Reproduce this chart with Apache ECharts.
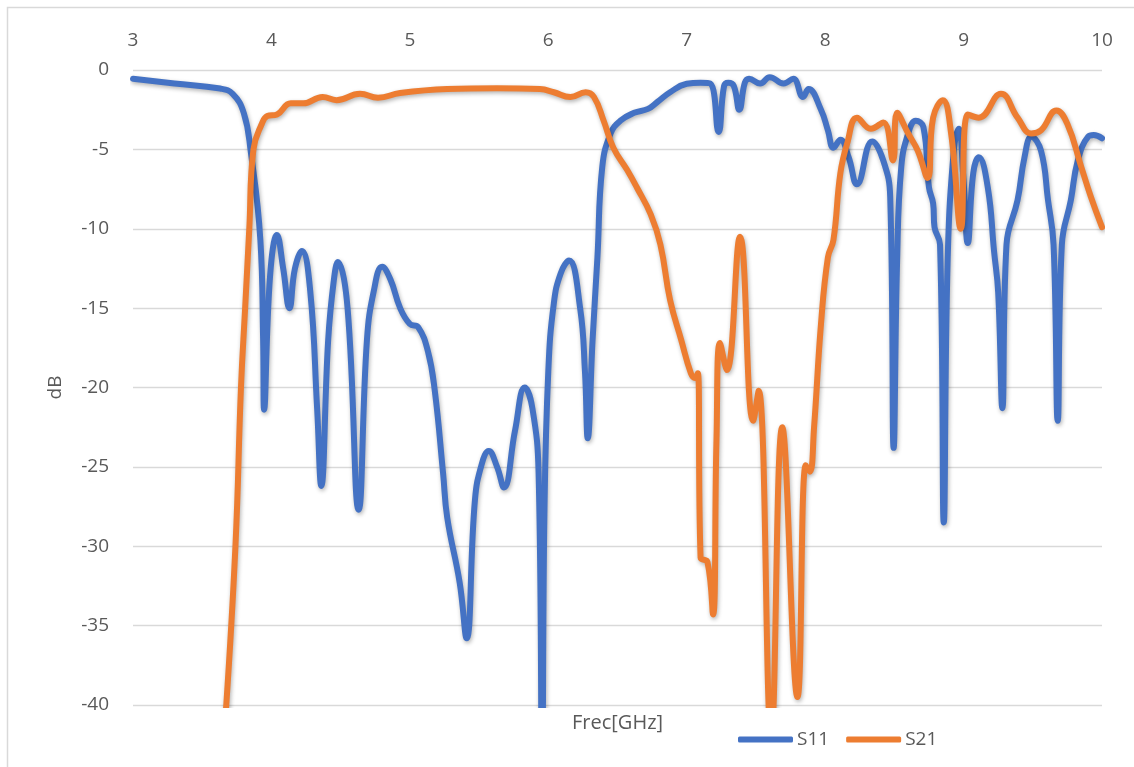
<!DOCTYPE html>
<html><head><meta charset="utf-8">
<script src="https://cdn.jsdelivr.net/npm/echarts@6/dist/echarts.min.js"></script>
<style>html,body{margin:0;padding:0;background:#fff}#c{width:1134px;height:767px}</style>
</head><body><div id="c"></div>
<script>
const seriesNames = ['S11', 'S21'];
const s11Freq = [3.00,3.30,3.63,3.72,3.80,3.85,3.92,3.94,3.947,3.99,4.04,4.085,4.13,4.17,4.22,4.28,4.33,4.36,4.41,4.45,4.48,4.55,4.63,4.69,4.74,4.80,4.86,4.93,5.00,5.06,5.13,5.18,5.24,5.27,5.36,5.41,5.47,5.52,5.57,5.63,5.68,5.76,5.83,5.885,5.93,5.955,5.972,6.00,6.04,6.09,6.15,6.23,6.265,6.285,6.32,6.355,6.39,6.45,6.52,6.62,6.72,6.79,6.88,7.00,7.10,7.17,7.23,7.27,7.30,7.34,7.38,7.42,7.45,7.53,7.60,7.70,7.77,7.84,7.88,7.97,8.02,8.06,8.11,8.17,8.23,8.34,8.42,8.47,8.495,8.52,8.55,8.60,8.655,8.71,8.75,8.78,8.79,8.83,8.857,8.885,8.93,8.965,9.0,9.03,9.07,9.11,9.175,9.22,9.25,9.28,9.31,9.39,9.44,9.49,9.56,9.61,9.65,9.68,9.71,9.775,9.825,9.9,9.94,10.0];
const s11Db = [-0.55,-0.85,-1.17,-1.5,-2.7,-5.1,-10.7,-17,-21.4,-13,-10.4,-12.5,-15.0,-12.5,-11.4,-13.9,-21.3,-26.2,-17.0,-13.3,-12.1,-15.0,-27.7,-17.0,-13.9,-12.4,-13.2,-15.0,-16.0,-16.2,-17.7,-20.2,-25.4,-28.2,-32.3,-35.8,-27.1,-24.8,-24.0,-25.0,-26.3,-22.7,-20.0,-21.3,-25.4,-45,-28,-19,-14.7,-12.8,-12.0,-15.0,-19,-23.2,-17,-11.8,-6.1,-4.0,-3.2,-2.7,-2.45,-2.0,-1.4,-0.87,-0.8,-0.85,-3.9,-1.0,-0.8,-1.0,-2.5,-0.8,-0.55,-0.85,-0.45,-0.85,-0.55,-1.7,-1.2,-2.5,-3.8,-4.9,-4.4,-5.5,-7.2,-4.5,-5.7,-8,-23.8,-12,-6.1,-4.0,-3.2,-3.6,-7.4,-8.4,-9.9,-11,-28.5,-12,-5,-3.7,-7,-10.9,-6.5,-5.5,-7.4,-11.4,-14,-21.3,-11,-8.2,-5.5,-4.2,-5.1,-8.2,-11,-22.1,-11,-8.2,-5.7,-4.2,-4.1,-4.3];
const s21Freq = [3.67,3.74,3.78,3.81,3.84,3.87,3.93,3.97,4.04,4.14,4.23,4.37,4.47,4.64,4.77,4.93,5.27,5.63,5.94,6.04,6.16,6.27,6.33,6.40,6.47,6.57,6.64,6.74,6.81,6.88,6.96,7.03,7.06,7.08,7.10,7.15,7.19,7.215,7.24,7.29,7.385,7.48,7.52,7.61,7.69,7.80,7.86,7.89,7.92,7.97,8.02,8.06,8.11,8.16,8.23,8.33,8.42,8.49,8.52,8.60,8.67,8.74,8.78,8.85,8.91,8.98,9.03,9.11,9.27,9.39,9.49,9.56,9.67,9.75,9.85,9.92,10.0];
const s21Db = [-40.5,-30,-20,-15,-10,-5,-3.4,-2.9,-2.8,-2.1,-2.1,-1.7,-1.9,-1.5,-1.75,-1.45,-1.2,-1.15,-1.2,-1.4,-1.7,-1.4,-1.7,-3.2,-4.9,-6.3,-7.4,-9.1,-11.0,-14.5,-17.0,-19.1,-19.4,-19.1,-30.7,-31.0,-34.3,-23.3,-17.2,-18.9,-10.5,-22.1,-20.2,-42,-22.5,-39.5,-24.9,-25.3,-22.5,-16.0,-11.8,-10.7,-6.5,-4.6,-3.0,-3.7,-3.3,-5.7,-2.7,-4.0,-5.1,-6.8,-3.0,-1.9,-4.0,-10.0,-2.8,-3.0,-1.5,-3.0,-4.0,-3.8,-2.55,-3.4,-6.1,-8.0,-9.9];
const xAxisName = 'Frec[GHz]';
const yAxisName = 'dB';

const FONT = '"Open Sans", sans-serif';
const TXT = '#595959';
const zip = (xs, ys) => xs.map((x, i) => [x, ys[i]]);
const colors = ['#4472C4', '#ED7D31'];
const lineSeries = (name, data, color) => ({
  name, type: 'line', data, showSymbol: false, symbol: 'none', smooth: 0.45, clip: true,
  lineStyle: { color, width: 6, cap: 'round', join: 'round',
    shadowColor: 'rgba(0,0,0,0.3)', shadowBlur: 4, shadowOffsetX: 1, shadowOffsetY: 2 },
  itemStyle: { color }
});

const chart = echarts.init(document.getElementById('c'), null, { renderer: 'canvas' });
chart.setOption({
  animation: false,
  backgroundColor: '#fff',
  textStyle: { fontFamily: FONT },
  grid: { left: 133, top: 70, width: 969, height: 635, containLabel: false },
  xAxis: {
    type: 'value', position: 'top', min: 3, max: 10, interval: 1,
    axisLine: { show: false }, axisTick: { show: false }, splitLine: { show: false },
    axisLabel: { color: TXT, fontSize: 19, fontFamily: FONT, margin: 20 }
  },
  yAxis: {
    type: 'value', min: -40, max: 0, interval: 5,
    name: yAxisName, nameLocation: 'middle', nameGap: 68, nameRotate: 90,
    nameTextStyle: { color: TXT, fontSize: 19, fontFamily: FONT },
    axisLine: { show: false }, axisTick: { show: false },
    splitLine: { lineStyle: { color: '#d9d9d9', width: 1.3 } },
    axisLabel: { color: TXT, fontSize: 19, fontFamily: FONT, margin: 24 }
  },
  legend: {
    data: seriesNames, left: 733, top: 725, icon: 'roundRect', itemWidth: 55, itemHeight: 6, itemGap: 17,
    textStyle: { color: TXT, fontSize: 19, fontFamily: FONT, padding: [0, 0, 0, -1] }
  },
  graphic: [
    { type: 'rect', silent: true, shape: { x: 7.5, y: 7.5, width: 1140, height: 800 },
      style: { fill: null, stroke: '#d9d9d9', lineWidth: 1.5 } },
    { type: 'text', left: 572, top: 713, silent: true,
      style: { text: xAxisName, fill: TXT, font: '20px ' + FONT } }
  ],
  series: [
    lineSeries(seriesNames[0], zip(s11Freq, s11Db), colors[0]),
    lineSeries(seriesNames[1], zip(s21Freq, s21Db), colors[1])
  ]
});
</script></body></html>
